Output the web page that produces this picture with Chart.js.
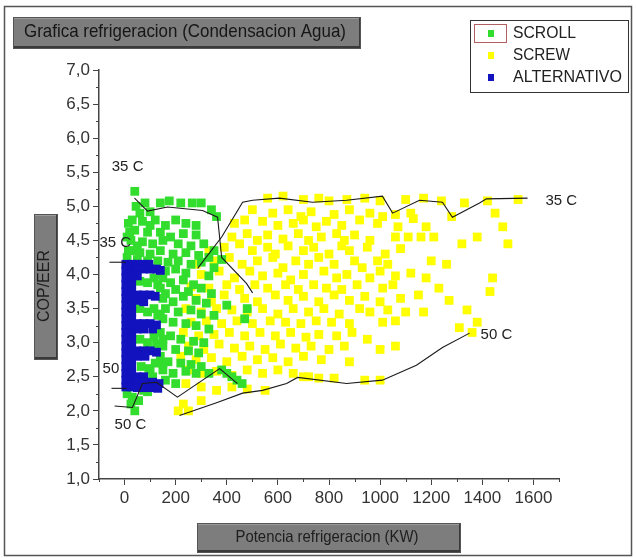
<!DOCTYPE html>
<html>
<head>
<meta charset="utf-8">
<script src="https://cdn.jsdelivr.net/npm/chart.js@4.4.1/dist/chart.umd.min.js"></script>
<style>
html,body{margin:0;padding:0;background:#fff;}
#wrap{width:636px;height:558px;position:relative;}
canvas{display:block;}
</style>
</head>
<body>
<div id="wrap"><canvas id="c" width="636" height="558"></canvas></div>
<script>
// ---------- DATA ----------
const chartTitle = "Grafica refrigeracion (Condensacion Agua)";
const xAxisTitle = "Potencia refrigeracion (KW)";
const yAxisTitle = "COP/EER";
const seriesNames = ["SCROLL", "SCREW", "ALTERNATIVO"];
const xTickValues = [0, 200, 400, 600, 800, 1000, 1200, 1400, 1600];
const yTickValues = [1.0, 1.5, 2.0, 2.5, 3.0, 3.5, 4.0, 4.5, 5.0, 5.5, 6.0, 6.5, 7.0];

const scrollPoints = [
  [40,5.22],[45,5.0],[80,5.05],[60,4.9],[100,4.92],[140,5.05],[175,5.08],[220,5.05],[265,5.05],[300,5.05],[340,4.95],[360,4.85],
  [15,4.75],[30,4.8],[70,4.78],[120,4.8],[160,4.72],[200,4.8],[240,4.75],[280,4.72],[100,4.72],
  [40,4.65],[90,4.62],[140,4.62],[180,4.55],[230,4.6],[280,4.58],[20,4.62],
  [10,4.55],[25,4.5],[70,4.48],[110,4.45],[150,4.5],[210,4.45],[260,4.42],[310,4.45],[350,4.35],[50,4.42],
  [15,4.35],[30,4.35],[60,4.32],[100,4.3],[140,4.35],[190,4.3],[240,4.32],[290,4.28],[330,4.25],[380,4.22],
  [10,4.25],[50,4.22],[90,4.2],[130,4.2],[170,4.18],[210,4.2],[260,4.15],[300,4.18],[350,4.1],
  [160,4.05],[200,4.08],[240,4.02],[330,3.98],[145,4.0],
  [60,3.9],[90,3.88],[115,3.95],[130,3.85],
  [150,3.95],[180,3.88],[230,3.92],[270,3.85],[140,3.8],[200,3.78],[250,3.75],[300,3.8],[340,3.72],
  [150,3.65],[190,3.6],[230,3.68],[280,3.62],[320,3.58],[400,3.55],[160,3.72],
  [60,3.5],[90,3.45],[115,3.5],[130,3.4],
  [160,3.5],[210,3.45],[260,3.48],[300,3.42],[350,3.4],[470,3.35],[480,3.5],[140,3.42],
  [150,3.35],[190,3.3],[240,3.28],[280,3.25],[330,3.2],
  [60,3.05],[90,3.0],[115,3.08],[125,2.98],
  [140,3.15],[180,3.1],[220,3.05],[270,3.02],[310,3.0],[150,3.05],
  [150,2.95],[200,2.9],[250,2.88],[290,2.85],
  [65,2.65],[95,2.62],[120,2.7],
  [140,2.8],[170,2.72],[220,2.7],[260,2.68],[300,2.65],[150,2.7],
  [150,2.6],[190,2.55],[240,2.58],[280,2.55],[330,2.55],
  [380,2.6],[400,2.55],[420,2.5],[440,2.45],[460,2.4],
  [160,2.45],[200,2.4],[110,2.5],[100,2.6],
  [10,2.25],[30,2.2],[25,2.1],[40,2.0],[55,2.15],[75,2.3],[90,2.28],[100,2.35]
];

const screwPoints = [
  [560,5.12],[620,5.15],[700,5.1],[760,5.12],[800,5.08],[870,5.1],[940,5.12],[1000,5.08],[1100,5.1],[1170,5.12],[1240,5.08],[1330,5.05],[1420,5.08],[1540,5.1],
  [500,4.95],[580,4.9],[640,4.95],[690,4.85],[730,4.92],[820,4.88],[880,4.95],[960,4.9],[1010,4.85],[1060,4.88],[1120,4.9],[1280,4.85],[1450,4.9],
  [430,4.75],[470,4.8],[540,4.78],[600,4.72],[660,4.75],[700,4.8],[750,4.7],[790,4.78],[850,4.72],[920,4.8],[990,4.75],[1070,4.7],[1130,4.82],[1180,4.7],[1480,4.7],
  [420,4.55],[480,4.6],[520,4.5],[560,4.58],[620,4.52],[680,4.6],[720,4.5],[770,4.55],[830,4.6],[860,4.5],[900,4.58],[960,4.5],[1060,4.55],[1110,4.55],[1160,4.55],[1210,4.55],[1380,4.55],
  [330,4.35],[390,4.4],[450,4.45],[500,4.35],[560,4.4],[590,4.3],[640,4.42],[700,4.35],[740,4.4],[800,4.3],[850,4.42],[880,4.35],[950,4.4],[1020,4.3],[1080,4.38],[1320,4.45],[1500,4.45],
  [280,4.15],[350,4.2],[410,4.25],[460,4.15],[520,4.2],[580,4.25],[620,4.1],[670,4.2],[720,4.15],[760,4.25],[820,4.15],[900,4.2],[930,4.1],[990,4.2],[1030,4.15],[1200,4.2],[1260,4.15],
  [300,4.0],[370,4.05],[430,3.95],[490,4.05],[540,3.98],[600,4.02],[650,3.92],[700,4.0],[780,4.05],[830,3.95],[870,4.0],[960,3.95],[1000,4.05],[1060,3.98],[1120,4.02],[1180,3.95],[1440,3.95],
  [260,3.82],[330,3.8],[400,3.85],[450,3.78],[510,3.85],[560,3.8],[630,3.85],[680,3.78],[740,3.85],[790,3.8],[850,3.78],[910,3.85],[1010,3.8],[1050,3.85],[1230,3.8],[1430,3.75],
  [280,3.65],[340,3.6],[390,3.7],[470,3.65],[520,3.6],[590,3.7],[640,3.62],[700,3.68],[760,3.6],[820,3.7],[880,3.62],[940,3.68],[1000,3.6],[1080,3.65],[1150,3.7],[1270,3.62],
  [240,3.5],[300,3.45],[360,3.5],[420,3.48],[480,3.45],[540,3.5],[600,3.42],[660,3.5],[720,3.45],[780,3.5],[840,3.42],[920,3.5],[960,3.45],[1030,3.48],[1100,3.45],[1170,3.45],[1340,3.48],
  [260,3.3],[320,3.32],[380,3.28],[440,3.32],[500,3.28],[570,3.32],[630,3.3],[690,3.28],[750,3.32],[810,3.3],[880,3.28],[1010,3.3],[1060,3.32],[1380,3.3],[1310,3.22],
  [230,3.15],[290,3.1],[350,3.12],[410,3.15],[470,3.1],[530,3.15],[590,3.1],[650,3.15],[710,3.08],[760,3.12],[830,3.1],[890,3.15],[950,3.05],[1360,3.15],
  [250,2.95],[310,2.9],[370,2.98],[430,2.92],[490,2.95],[550,2.9],[610,2.98],[670,2.92],[730,2.95],[800,2.9],[860,2.95],[1000,2.9],[1060,2.95],
  [220,2.8],[280,2.75],[340,2.78],[400,2.72],[460,2.8],[520,2.75],[580,2.78],[640,2.72],[700,2.8],[770,2.75],[880,2.72],
  [250,2.6],[300,2.55],[360,2.58],[420,2.52],[480,2.6],[540,2.55],[600,2.6],[660,2.55],[720,2.5],[820,2.48],[940,2.45],
  [240,2.4],[300,2.35],[360,2.3],[420,2.35],[480,2.32],[550,2.3],
  [230,2.1],[300,2.15],[250,2.0],[210,2.0],[700,2.5],[760,2.48],[1000,2.45]
];

const alternativoPoints = [
  [5,4.15],[28,4.15],[5,4.05],[28,4.05],[5,3.95],[28,3.95],[5,3.85],[28,3.85],[5,3.75],[28,3.75],
  [5,3.65],[28,3.65],[5,3.55],[28,3.55],[5,3.45],[28,3.45],[5,3.35],[28,3.35],[5,3.25],[28,3.25],
  [5,3.15],[28,3.15],[5,3.05],[28,3.05],[5,2.95],[28,2.95],[5,2.85],[28,2.85],[5,2.75],[28,2.75],
  [5,2.65],[28,2.65],[5,2.55],[28,2.55],[5,2.45],[28,2.45],[5,2.35],[28,2.35],
  [50,4.15],[72,4.15],[95,4.15],[50,4.08],[75,4.08],[100,4.08],[125,4.08],[140,4.06],[50,3.98],
  [50,3.7],[75,3.7],[100,3.7],[120,3.68],[50,3.62],[75,3.6],
  [50,3.28],[75,3.28],[100,3.28],[125,3.26],[50,3.2],[75,3.2],[110,3.2],
  [50,2.88],[75,2.88],[100,2.88],[125,2.86],[50,2.8],[80,2.8],
  [50,2.5],[75,2.5],[50,2.42],[80,2.42],[110,2.42],[135,2.4],[50,2.34],[75,2.34],[100,2.34],[130,2.33]
];

// boundary curves
const scroll35Line = [[39,5.12],[90,4.93],[168,4.99],[305,4.94],[364,4.84],[380,4.25],[477,3.87],[501,3.73]];
const screw35Line = [[286,4.09],[380,4.55],[462,5.06],[501,5.09],[606,5.12],[736,5.06],[869,5.09],[1009,5.15],[1049,4.90],[1154,5.09],[1244,5.06],[1283,4.84],[1389,5.05],[1416,5.11],[1577,5.12]];
const scroll50Line = [[-39,2.07],[31,2.05],[70,2.40],[125,2.42],[207,2.20],[372,2.62],[442,2.40]];
const screw50Line = [[215,1.93],[360,2.12],[462,2.26],[540,2.30],[634,2.40],[677,2.49],[869,2.40],[1009,2.45],[1142,2.67],[1244,2.93],[1350,3.14]];
const alt35Line = [[-59,4.18],[4,4.18]];
const alt50Line = [[-51,2.33],[8,2.33]];

// curve labels [text, x, y]
const curveLabels = [
  ["35 C", -50, 5.58],
  ["35 C", -98, 4.47],
  ["50", -86, 2.61],
  ["50 C", -39, 1.79],
  ["35 C", 1647, 5.08],
  ["50 C", 1393, 3.11]
];

// ---------- CHART ----------
const FONT = '"Liberation Sans", Arial, sans-serif';
const toXY = arr => arr.map(p => ({x: p[0], y: p[1]}));
const GREEN = '#33dd2e', YELLOW = '#ffff00', BLUE = '#1212bf';

function lineDs(pts) {
  return {type: 'scatter', data: toXY(pts), showLine: true, borderColor: '#1a1a1a', borderWidth: 1.1,
          pointRadius: 0, fill: false, tension: 0, order: 0};
}

function fitText(ctx, text, cx, cy, targetW, rotate) {
  ctx.save();
  ctx.translate(cx, cy);
  if (rotate) ctx.rotate(-Math.PI / 2);
  const w = ctx.measureText(text).width;
  const sx = targetW / w;
  ctx.scale(sx, 1);
  ctx.textAlign = 'center';
  ctx.textBaseline = 'middle';
  ctx.fillText(text, 0, 0);
  ctx.restore();
}

function grayBox(ctx, x, y, w, h) {
  ctx.save();
  ctx.fillStyle = '#7d7d7d';
  ctx.fillRect(x, y, w, h);
  ctx.fillStyle = '#9a9a9a';
  ctx.fillRect(x, y, w, 2);
  ctx.fillStyle = '#3a3a3a';
  ctx.fillRect(x, y + h - 3, w, 3);
  ctx.fillRect(x + w - 2, y, 2, h);
  ctx.strokeStyle = '#555';
  ctx.lineWidth = 1;
  ctx.strokeRect(x + 0.5, y + 0.5, w - 1, h - 1);
  ctx.restore();
}

const decor = {
  id: 'decor',
  beforeDraw(chart) {
    const ctx = chart.ctx;
    ctx.save();
    ctx.fillStyle = '#fff';
    ctx.fillRect(0, 0, chart.width, chart.height);
    ctx.strokeStyle = '#555';
    ctx.lineWidth = 1.5;
    ctx.strokeRect(4.5, 6.5, 627, 549);
    ctx.restore();
  },
  afterDraw(chart) {
    const ctx = chart.ctx;
    const xs = chart.scales.x, ys = chart.scales.y;
    const ca = chart.chartArea;
    ctx.save();
    // minor ticks
    ctx.strokeStyle = '#444';
    ctx.lineWidth = 1;
    ctx.beginPath();
    for (let v = -100; v <= 1700; v += 200) {
      const px = Math.round(xs.getPixelForValue(v)) + 0.5;
      ctx.moveTo(px, ca.bottom); ctx.lineTo(px, ca.bottom + 3);
    }
    for (let v = 1.25; v < 7; v += 0.5) {
      const py = Math.round(ys.getPixelForValue(v)) + 0.5;
      ctx.moveTo(ca.left - 3, py); ctx.lineTo(ca.left, py);
    }
    ctx.stroke();

    // curve labels
    ctx.fillStyle = '#222';
    ctx.font = '15px ' + FONT;
    ctx.textAlign = 'left';
    ctx.textBaseline = 'middle';
    curveLabels.forEach(l => {
      ctx.fillText(l[0], xs.getPixelForValue(l[1]), ys.getPixelForValue(l[2]));
    });

    // title box
    grayBox(ctx, 13, 17, 348, 32);
    ctx.fillStyle = '#161616';
    ctx.font = '19px ' + FONT;
    fitText(ctx, chartTitle, 185, 32, 322, false);

    // y axis title box
    grayBox(ctx, 34, 214, 24, 146);
    ctx.fillStyle = '#1e1e1e';
    ctx.font = '16px ' + FONT;
    fitText(ctx, yAxisTitle, 45, 286, 72, true);

    // x axis title box
    grayBox(ctx, 197, 523, 264, 30);
    ctx.fillStyle = '#1e1e1e';
    ctx.font = '17px ' + FONT;
    fitText(ctx, xAxisTitle, 327, 537, 183, false);

    // legend
    ctx.fillStyle = '#fff';
    ctx.fillRect(470, 20, 158, 72);
    ctx.strokeStyle = '#333';
    ctx.lineWidth = 1;
    ctx.strokeRect(470.5, 20.5, 158, 72);
    ctx.strokeStyle = '#b06060';
    ctx.strokeRect(474.5, 24.5, 32, 18);
    const colors = [GREEN, YELLOW, BLUE];
    const rowsY = [33, 55, 77];
    const textW = [63, 57, 109];
    ctx.font = '17px ' + FONT;
    seriesNames.forEach((n, i) => {
      ctx.fillStyle = colors[i];
      ctx.fillRect(488, rowsY[i] - 3, 6, 7);
      ctx.fillStyle = '#222';
      fitText(ctx, n, 513 + textW[i] / 2, rowsY[i], textW[i], false);
    });
    ctx.restore();
  }
};

const tickFont = {family: FONT, size: 17};

new Chart(document.getElementById('c'), {
  type: 'scatter',
  data: {
    datasets: [
      lineDs(scroll35Line), lineDs(screw35Line), lineDs(scroll50Line), lineDs(screw50Line),
      lineDs(alt35Line), lineDs(alt50Line),
      {label: seriesNames[2], data: toXY(alternativoPoints), backgroundColor: BLUE, borderWidth: 0,
       pointStyle: 'rect', pointRadius: 6.2, order: 1},
      {label: seriesNames[0], data: toXY(scrollPoints), backgroundColor: GREEN, borderWidth: 0,
       pointStyle: 'rect', pointRadius: 6.2, order: 2},
      {label: seriesNames[1], data: toXY(screwPoints), backgroundColor: YELLOW, borderWidth: 0,
       pointStyle: 'rect', pointRadius: 6.2, order: 3}
    ]
  },
  options: {
    responsive: false,
    animation: false,
    devicePixelRatio: 1,
    layout: {padding: {top: 70, right: 77, bottom: 0, left: 0}},
    plugins: {legend: {display: false}, tooltip: {enabled: false}, title: {display: false}},
    scales: {
      x: {
        type: 'linear', min: -100, max: 1700,
        afterBuildTicks: s => { s.ticks = xTickValues.map(v => ({value: v})); },
        afterFit: s => { s.height = 79; },
        grid: {display: true, drawOnChartArea: false, drawTicks: true, tickLength: 6, color: '#444'},
        border: {display: true, color: '#444', width: 1.5},
        ticks: {font: tickFont, color: '#333', padding: 3, maxRotation: 0, autoSkip: false,
                callback: v => String(v)}
      },
      y: {
        type: 'linear', min: 1, max: 7,
        afterBuildTicks: s => { s.ticks = yTickValues.map(v => ({value: v})); },
        afterFit: s => { s.width = 99; },
        grid: {display: true, drawOnChartArea: false, drawTicks: true, tickLength: 6, color: '#444'},
        border: {display: true, color: '#444', width: 1.5},
        ticks: {font: tickFont, color: '#333', padding: 3, autoSkip: false,
                callback: v => v.toFixed(1).replace('.', ',')}
      }
    }
  },
  plugins: [decor]
});
</script>
</body>
</html>
